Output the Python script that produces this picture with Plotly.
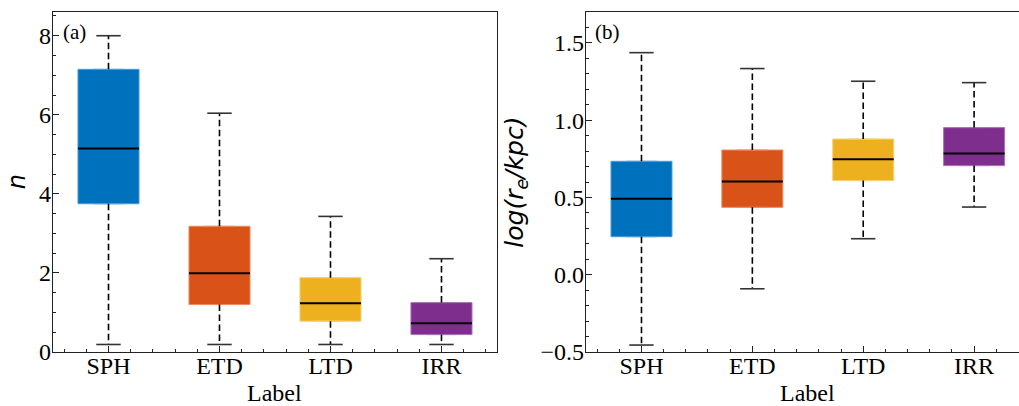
import plotly.graph_objects as go

categories = ["SPH", "ETD", "LTD", "IRR"]
colors = ["#0072BD", "#D95319", "#EDB120", "#7E2F8E"]
edge_colors = ["#4A9BDA", "#EE8A5E", "#F6CF72", "#A772B6"]

# panel (a): Sersic index n
n_lower = [0.19, 0.19, 0.19, 0.19]
n_q1 = [3.75, 1.20, 0.78, 0.44]
n_median = [5.15, 1.99, 1.23, 0.73]
n_q3 = [7.15, 3.18, 1.88, 1.25]
n_upper = [8.00, 6.04, 3.43, 2.36]

# panel (b): log(r_e/kpc)
r_lower = [-0.455, -0.091, 0.233, 0.438]
r_q1 = [0.246, 0.436, 0.609, 0.706]
r_median = [0.492, 0.604, 0.747, 0.784]
r_q3 = [0.734, 0.807, 0.878, 0.952]
r_upper = [1.437, 1.334, 1.252, 1.243]

BOX_W = 0.55
CAP_W = 0.22
FONT = "Liberation Serif, Times New Roman, serif"

fig = go.Figure()


def add_panel(xa, ya, lower, q1, med, q3, upper):
    for i, cat in enumerate(categories):
        fig.add_trace(go.Box(
            x=[i], q1=[q1[i]], median=[med[i]], q3=[q3[i]],
            lowerfence=[q1[i]], upperfence=[q3[i]],
            width=BOX_W, fillcolor=colors[i],
            line=dict(color=edge_colors[i], width=1),
            xaxis=xa, yaxis=ya, showlegend=False, name=cat,
            boxpoints=False,
        ))
        # whiskers (dashed)
        fig.add_trace(go.Scatter(
            x=[i, i, None, i, i],
            y=[q3[i], upper[i], None, q1[i], lower[i]],
            mode="lines", line=dict(color="black", width=1.6, dash="6.5px,3.5px"),
            xaxis=xa, yaxis=ya, showlegend=False, hoverinfo="skip",
        ))
        # caps
        fig.add_trace(go.Scatter(
            x=[i - CAP_W / 2, i + CAP_W / 2, None, i - CAP_W / 2, i + CAP_W / 2],
            y=[upper[i], upper[i], None, lower[i], lower[i]],
            mode="lines", line=dict(color="#333333", width=1.6),
            xaxis=xa, yaxis=ya, showlegend=False, hoverinfo="skip",
        ))
        # median
        fig.add_trace(go.Scatter(
            x=[i - BOX_W / 2, i + BOX_W / 2], y=[med[i], med[i]],
            mode="lines", line=dict(color="black", width=2),
            xaxis=xa, yaxis=ya, showlegend=False, hoverinfo="skip",
        ))


add_panel("x", "y", n_lower, n_q1, n_median, n_q3, n_upper)
add_panel("x2", "y2", r_lower, r_q1, r_median, r_q3, r_upper)

axis_common = dict(
    showline=True, linecolor="#222222", linewidth=1.3,
    ticks="inside", ticklen=6, tickwidth=1.1, tickcolor="#222222",
    showgrid=False, zeroline=False, automargin=False,
    tickfont=dict(family=FONT, size=24, color="black"),
)
minor_common = dict(ticks="inside", ticklen=3, tickcolor="#222222", tickwidth=1)

fig.update_layout(
    width=1019, height=406,
    margin=dict(l=53, r=0, t=12, b=54, autoexpand=False),
    plot_bgcolor="white", paper_bgcolor="white",
    xaxis=dict(domain=[0, 0.4596], range=[-0.5, 3.5], mirror=True,
               tickmode="array", tickvals=list(range(4)), ticktext=categories,
               ticklabelstandoff=-8,
               minor=dict(dtick=0.2, tick0=0, **minor_common), **axis_common),
    yaxis=dict(domain=[0, 1], range=[0, 8.6], mirror=True,
               tickmode="array", tickvals=[0, 2, 4, 6, 8],
               ticklabelstandoff=-4,
               minor=dict(dtick=0.5, tick0=0, **minor_common), **axis_common),
    xaxis2=dict(domain=[0.5518, 1], range=[-0.5, 3.405], mirror=True, anchor="y2",
                tickmode="array", tickvals=list(range(4)), ticktext=categories,
                ticklabelstandoff=-8,
                minor=dict(dtick=0.2, tick0=0, **minor_common), **axis_common),
    yaxis2=dict(domain=[0, 1], range=[-0.5, 1.7], mirror=False, anchor="x2",
                tickmode="array", tickvals=[-0.5, 0, 0.5, 1.0, 1.5],
                ticktext=["\u22120.5", "0.0", "0.5", "1.0", "1.5"],
                ticklabelstandoff=-4,
                minor=dict(dtick=0.1, tick0=0, **minor_common), **axis_common),
)

annotations = [
    dict(text="(a)", xref="paper", yref="paper", x=0.008, y=0.94, xanchor="left",
         yanchor="middle", showarrow=False, font=dict(family=FONT, size=21, color="black")),
    dict(text="(b)", xref="x2 domain", yref="paper", x=0.017, y=0.94, xanchor="left",
         yanchor="middle", showarrow=False, font=dict(family=FONT, size=21, color="black")),
    dict(text="Label", xref="x", yref="paper", x=1.5, y=-0.12, xanchor="center",
         yanchor="middle", showarrow=False, font=dict(family=FONT, size=24, color="black")),
    dict(text="Label", xref="x2", yref="paper", x=1.5, y=-0.12, xanchor="center",
         yanchor="middle", showarrow=False, font=dict(family=FONT, size=24, color="black")),
    dict(text="<i>n</i>", xref="paper", yref="paper", x=-0.037, y=0.5, xanchor="center",
         yanchor="middle", textangle=-90, showarrow=False,
         font=dict(family="DejaVu Sans", size=24, color="black")),
    dict(text="<i>log(r<sub>e</sub>/kpc)</i>", xref="paper", yref="paper", x=0.479, y=0.5,
         xanchor="center", yanchor="middle", textangle=-90, showarrow=False,
         font=dict(family="DejaVu Sans", size=25, color="black")),
]
fig.update_layout(annotations=annotations)

fig.write_html("out.html", config={"displayModeBar": False},
               post_script="document.body.style.margin='0';")
